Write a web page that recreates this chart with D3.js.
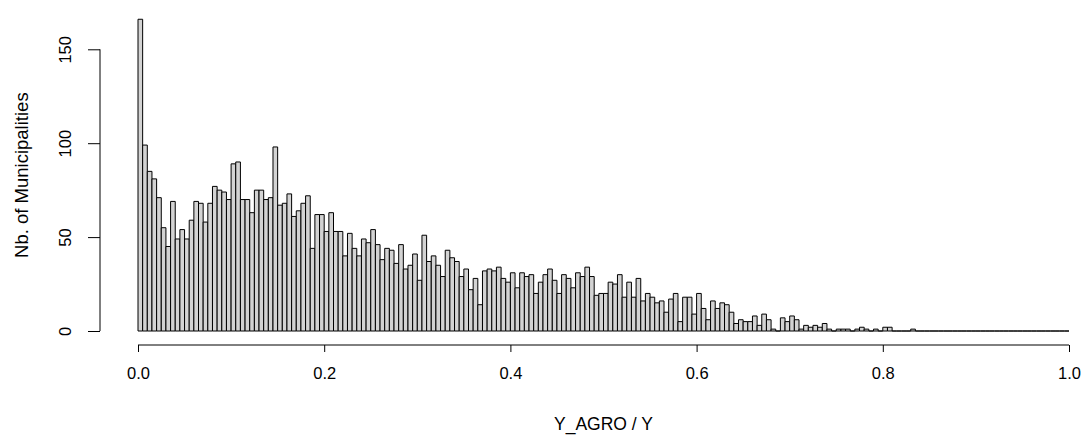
<!DOCTYPE html>
<html>
<head>
<meta charset="utf-8">
<script src="https://cdn.jsdelivr.net/npm/d3@7"></script>
<style>
  body { margin: 0; background: #fff; }
  svg { display: block; font-family: "Liberation Sans", Arial, sans-serif; }
</style>
</head>
<body>
<div id="chart"></div>
<script>
// histogram of Y_AGRO / Y, bins of width 0.005 from 0 to 1
const binWidth = 0.005;
const counts = [
  166, 99, 85, 81, 71, 55, 45, 69, 49, 54, 49, 59, 69, 68, 58, 68, 77, 75, 74, 70,
  89, 90, 70, 70, 63, 75, 75, 70, 71, 98, 67, 68, 73, 61, 64, 68, 72, 44, 62, 62,
  53, 63, 53, 53, 40, 52, 44, 40, 49, 47, 54, 46, 38, 44, 43, 36, 46, 33, 35, 41,
  27, 51, 37, 40, 35, 29, 43, 39, 37, 29, 33, 22, 28, 14, 32, 33, 32, 34, 28, 26,
  31, 23, 31, 29, 30, 20, 26, 30, 33, 27, 20, 30, 28, 23, 31, 29, 34, 29, 19, 20,
  20, 26, 25, 30, 18, 26, 18, 28, 16, 20, 18, 15, 16, 10, 17, 20, 5, 18, 18, 9,
  20, 12, 6, 16, 12, 15, 14, 10, 4, 6, 5, 5, 8, 3, 9, 6, 1, 0, 7, 5,
  8, 6, 1, 3, 2, 3, 2, 4, 1, 0, 1, 1, 1, 0, 1, 2, 1, 0, 1, 0,
  2, 2, 0, 0, 0, 0, 1, 0, 0, 0, 0, 0, 0, 0, 0, 0, 0, 0, 0, 0,
  0, 0, 0, 0, 0, 0, 0, 0, 0, 0, 0, 0, 0, 0, 0, 0, 0, 0, 0, 0
];
const xTicks = [0, 0.2, 0.4, 0.6, 0.8, 1.0];
const yTicks = [0, 50, 100, 150];
const xTitle = "Y_AGRO / Y";
const yTitle = "Nb. of Municipalities";

const width = 1085, height = 435;

const svg = d3.select("#chart")
    .append("svg")
    .attr("width", width)
    .attr("height", height);

const x = d3.scaleLinear().domain([0, 1]).range([138, 1069]);
const y = d3.scaleLinear().domain([0, 150]).range([331, 49.3]);

const bins = counts.map((c, i) => ({ x0: i * binWidth, x1: (i + 1) * binWidth, count: c }));

// bars as closed paths so empty bins still show as a flat line (like R's rect)
svg.append("g")
    .selectAll("path")
    .data(bins)
    .join("path")
    .attr("d", d => `M${x(d.x0)},${y(0)}V${y(d.count)}H${x(d.x1)}V${y(0)}Z`)
    .attr("fill", "#d3d3d3")
    .attr("stroke", "#000")
    .attr("stroke-width", 1);

// x axis
const xAxis = svg.append("g")
    .attr("transform", "translate(0,345)")
    .call(d3.axisBottom(x).tickValues(xTicks).tickFormat(d3.format(".1f")).tickSize(7).tickPadding(15));

// y axis
const yAxis = svg.append("g")
    .attr("transform", "translate(100,0)")
    .call(d3.axisLeft(y).tickValues(yTicks).tickSize(12).tickPadding(0));

[xAxis, yAxis].forEach(g => {
    g.select(".domain").attr("stroke", "#000").attr("stroke-width", 1);
    g.selectAll(".tick line").attr("stroke", "#000");
    g.selectAll(".tick text").attr("fill", "#000").style("font-size", "16.5px");
});
xAxis.select(".domain").attr("d", `M${x(0)},0H${x(1)}`);
yAxis.select(".domain").attr("d", `M0,${y(0)}V${y(150)}`);

// rotated y tick labels, like R's default
yAxis.selectAll(".tick text")
    .attr("x", 0)
    .attr("dy", null)
    .attr("transform", "translate(-35,0) rotate(-90)")
    .attr("text-anchor", "middle")
    .attr("dominant-baseline", "central");

// titles
svg.append("text")
    .attr("x", (x(0) + x(1)) / 2)
    .attr("y", 424)
    .attr("text-anchor", "middle")
    .attr("dominant-baseline", "central")
    .style("font-size", "17.5px")
    .text(xTitle);

svg.append("text")
    .attr("transform", `translate(21,${(y(0) + y(150)) / 2 - 15}) rotate(-90)`)
    .attr("text-anchor", "middle")
    .attr("dominant-baseline", "central")
    .style("font-size", "18.5px")
    .text(yTitle);
</script>
</body>
</html>
